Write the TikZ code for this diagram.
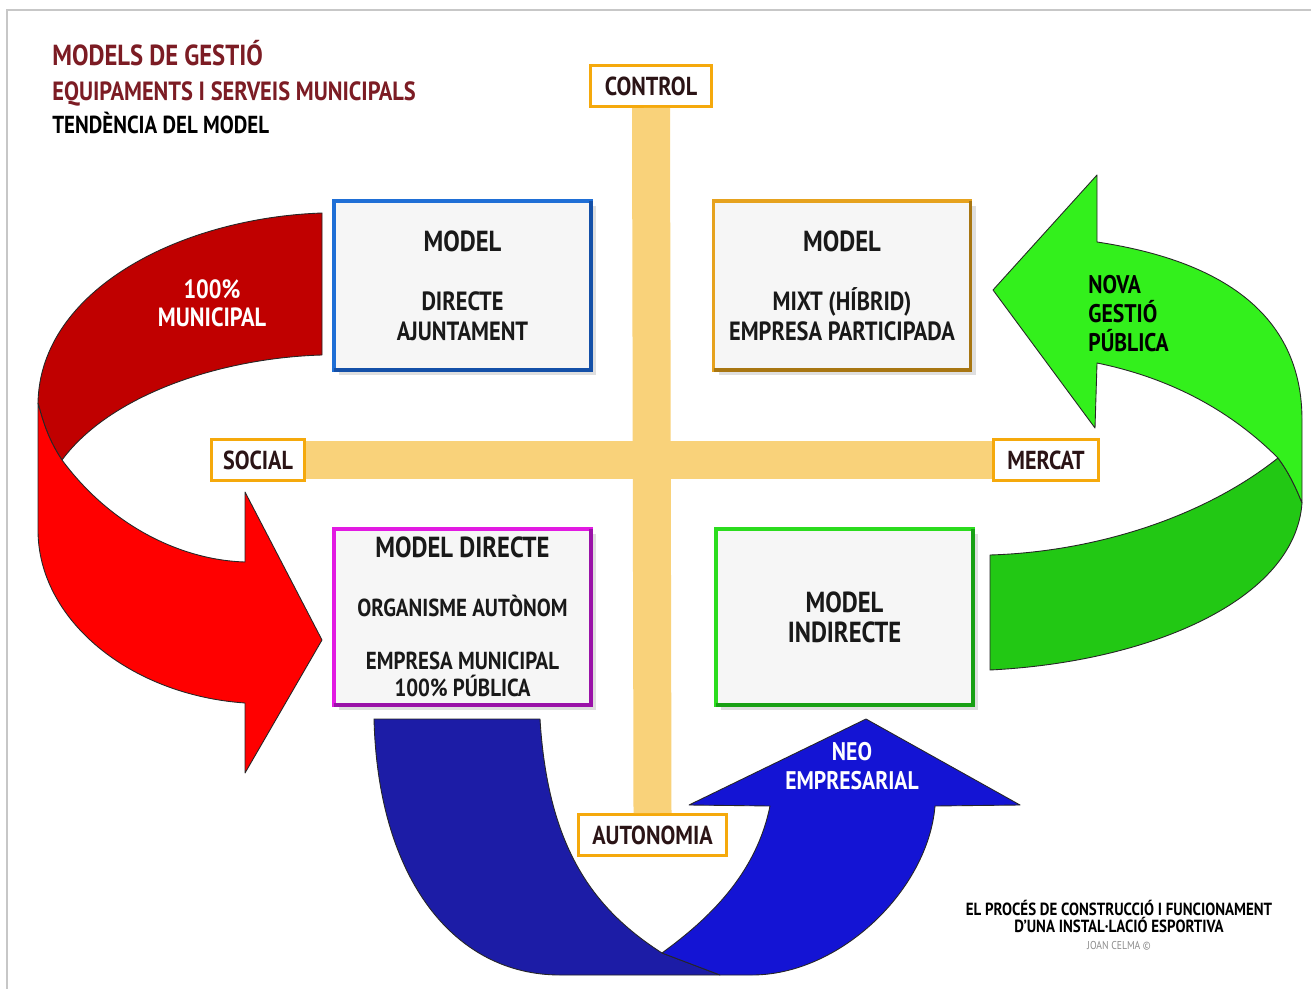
\documentclass[tikz,border=0pt]{standalone}
\usepackage{fontspec}
\setmainfont{PT Sans}[FakeStretch=0.85]
\usetikzlibrary{shadows}
\definecolor{redback}{HTML}{C00000}
\definecolor{redfront}{HTML}{FF0000}
\definecolor{greenfront}{HTML}{33F01C}
\definecolor{greenback}{HTML}{22C814}
\definecolor{blueback}{HTML}{1C1CA6}
\definecolor{bluefront}{HTML}{1414D4}
\definecolor{barcol}{HTML}{F9D27A}
\definecolor{frameorange}{HTML}{F5A90C}
\definecolor{titlered}{HTML}{7C1C24}
\definecolor{labeltext}{HTML}{2B1416}
\definecolor{boxfill}{HTML}{F6F6F6}
\definecolor{bluebox}{HTML}{1F6FD6}
\definecolor{bluedark}{HTML}{1450A8}
\definecolor{orangebox}{HTML}{E6A21E}
\definecolor{orangedark}{HTML}{A87612}
\definecolor{magentabox}{HTML}{E21AE2}
\definecolor{magentadark}{HTML}{9A12A8}
\definecolor{greenbox}{HTML}{2BDC1E}
\definecolor{greendark}{HTML}{18A014}
\newcommand{\darkedge}[2]{\draw[#2,line width=2.2pt] (#1.north east) -- (#1.south east) -- (#1.south west);}
\newcommand{\headtxt}[1]{{\fontsize{16.5}{17}\selectfont #1}}
\newcommand{\bodytxt}[1]{{\fontsize{14}{17}\selectfont #1}}

\begin{document}
\begin{tikzpicture}[x=0.02cm,y=-0.02cm,
  ribbon/.style={fill=#1,draw=black!85,line width=0.5pt,line join=round},
  modelbox/.style={draw=#1,line width=2.2pt,fill=boxfill,outer sep=0pt,minimum width=5.14cm,minimum height=3.38cm,
    align=center,text=black!90,font=\fontsize{15}{17}\selectfont\bfseries,
    drop shadow={shadow xshift=3pt,shadow yshift=-3pt,opacity=0.25}},
  axislabel/.style={draw=frameorange,line width=1.7pt,fill=white,minimum width=#1,minimum height=0.82cm,
    text=labeltext,font=\fontsize{14.8}{15}\selectfont\bfseries},
  axisbar/.style={barcol,line width=0.76cm},
  heading/.style={anchor=base west,inner sep=0pt,font=\bfseries}]
\useasboundingbox (0,0) rectangle (1311,989);
\fill[white] (0,0) rectangle (1311,989);
\draw[black!22,line width=1pt] (7,989) -- (7,10) -- (1311,10);

% titles
\node[heading,text=titlered] (title) at (52,66) {\fontsize{16.5}{18}\selectfont MODELS DE GESTIÓ};
\node[heading,text=titlered] (subtitle) at (52,101) {\fontsize{15}{18}\selectfont EQUIPAMENTS I SERVEIS MUNICIPALS};
\node[heading,text=black] (trend) at (52,134) {\fontsize{14}{18}\selectfont TENDÈNCIA DEL MODEL};

% red ribbon
\draw[ribbon=redback] (322,213) .. controls (180,218) and (40,290) .. (38,403) .. controls (45,430) and (52,445) .. (62,460)
  .. controls (110,395) and (220,358) .. (322,355) -- cycle;
\draw[ribbon=redfront] (38,403) -- (38,530) .. controls (38,620) and (130,695) .. (245,703) -- (245,773) -- (322,640)
  -- (245,492) -- (245,562) .. controls (180,560) and (110,525) .. (62,460) .. controls (52,445) and (45,430) .. (38,403) -- cycle;
\node[text=white,align=center,inner sep=0pt,font=\fontsize{15}{16}\selectfont\bfseries] (municipal) at (212,303) {100\%\\MUNICIPAL};

% green ribbon
\draw[ribbon=greenback] (1278,458) .. controls (1200,520) and (1090,552) .. (990,555) -- (990,670)
  .. controls (1150,662) and (1295,600) .. (1302,503) .. controls (1295,485) and (1287,470) .. (1278,458) -- cycle;
\draw[ribbon=greenfront] (993,290) -- (1097,175) -- (1097,242) .. controls (1230,262) and (1302,320) .. (1302,420) -- (1302,503)
  .. controls (1295,485) and (1287,470) .. (1278,458) .. controls (1230,410) and (1170,378) .. (1097,363) -- (1095,428) -- cycle;
\node[anchor=west,align=left,inner sep=0pt,text=black,font=\fontsize{14.5}{16.5}\selectfont\bfseries] (novagestio) at (1088,314) {NOVA\\GESTIÓ\\PÚBLICA};

% blue ribbon
\draw[ribbon=blueback] (374,719) -- (540,719) .. controls (548,850) and (595,910) .. (662,953) -- (720,975) -- (560,975)
  .. controls (455,975) and (378,880) .. (374,719) -- cycle;
\draw[ribbon=bluefront] (662,953) .. controls (700,925) and (755,880) .. (770,806) -- (689,805) -- (866,719) -- (1020,805)
  -- (935,806) .. controls (928,890) and (840,975) .. (752,975) -- (720,975) -- cycle;
\node[text=white,align=center,inner sep=0pt,font=\fontsize{14.5}{16.5}\selectfont\bfseries] (neo) at (852,766) {NEO\\EMPRESARIAL};

% axes
\node[axislabel=2.42cm] (control) at (651,86) {CONTROL};
\node[axislabel=1.86cm] (social) at (258,460) {SOCIAL};
\node[axislabel=2.1cm] (mercat) at (1046,460) {MERCAT};
\node[axislabel=2.96cm] (autonomia) at (652.5,835) {AUTONOMIA};
\draw[axisbar] (control.south) -- (autonomia.north);
\draw[axisbar] (social.east) -- (mercat.west);

% models
\node[modelbox=bluebox] (directe) at (462.5,285.5) {\headtxt{MODEL}\\[16.5pt]DIRECTE\\AJUNTAMENT};
\darkedge{directe}{bluedark}
\node[modelbox=orangebox] (mixt) at (842,285.5) {\headtxt{MODEL}\\[16.5pt]MIXT (HÍBRID)\\EMPRESA PARTICIPADA};
\darkedge{mixt}{orangedark}
\node[modelbox=magentabox,minimum height=3.52cm] (autonom) at (462.5,617) {\headtxt{MODEL DIRECTE}\\[16.5pt]\bodytxt{ORGANISME AUTÒNOM}\\[13pt]\bodytxt{EMPRESA MUNICIPAL}\\[-1.5pt]\bodytxt{100\% PÚBLICA}};
\darkedge{autonom}{magentadark}
\node[modelbox=greenbox,minimum height=3.52cm] (indirecte) at (844.5,617) {\headtxt{MODEL}\\\headtxt{INDIRECTE}};
\darkedge{indirecte}{greendark}

% credit
\node[align=center,inner sep=0pt,font=\fontsize{10}{9.7}\selectfont\bfseries] (credit) at (1119,925)
  {EL PROCÉS DE CONSTRUCCIÓ I FUNCIONAMENT\\D’UNA INSTAL·LACIÓ ESPORTIVA\\{\fontsize{6.5}{9.7}\selectfont\mdseries\color{black!45}JOAN CELMA ©}};
\end{tikzpicture}
\end{document}
